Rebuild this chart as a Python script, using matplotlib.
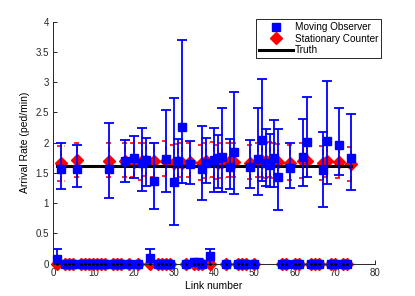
import matplotlib
matplotlib.use("Agg")
import matplotlib.pyplot as plt
import numpy as np
from matplotlib.ticker import FormatStrFormatter

plt.rcParams['font.family'] = ['Liberation Sans', 'DejaVu Sans']

# links with walking traffic
up_links = [2, 6, 14, 18, 20, 22, 23, 25, 28, 30, 31, 32, 34, 37, 38, 40, 41, 42,
            44, 45, 49, 51, 52, 53, 54, 55, 56, 59, 62, 63, 67, 68, 71, 74]
mo_val = [1.57, 1.57, 1.57, 1.69, 1.74, 1.66, 1.71, 1.37, 1.73, 1.35, 1.69, 2.26,
          1.64, 1.56, 1.66, 1.71, 1.74, 1.77, 1.60, 1.84, 1.60, 1.73, 2.04, 1.66,
          1.63, 1.74, 1.44, 1.59, 1.77, 2.01, 1.55, 2.02, 1.96, 1.74]
mo_lo = [1.23, 1.27, 1.08, 1.35, 1.42, 1.20, 1.28, 0.91, 1.18, 0.64, 1.33, 1.34,
         1.32, 1.06, 1.33, 1.19, 1.25, 1.18, 1.23, 1.16, 1.25, 1.13, 1.36, 1.28,
         1.27, 1.26, 0.88, 1.25, 1.29, 1.44, 0.94, 1.32, 1.47, 1.21]
mo_hi = [2.00, 1.96, 2.32, 2.04, 2.11, 2.24, 2.07, 1.99, 2.54, 2.74, 2.06, 3.69,
         2.03, 2.28, 2.08, 2.25, 2.13, 2.57, 2.06, 2.83, 2.04, 2.58, 3.06, 2.22,
         2.14, 2.38, 2.23, 1.99, 2.39, 2.76, 2.18, 3.02, 2.57, 2.47]
sc_val = [1.66, 1.71, 1.70, 1.70, 1.68, 1.69, 1.70, 1.70, 1.69, 1.66, 1.68, 1.67,
          1.68, 1.66, 1.69, 1.70, 1.67, 1.68, 1.69, 1.68, 1.66, 1.70, 1.70, 1.69,
          1.70, 1.69, 1.68, 1.66, 1.69, 1.69, 1.66, 1.70, 1.68, 1.64]
sc_lo = [1.37, 1.44, 1.44, 1.44, 1.43, 1.38, 1.45, 1.43, 1.45, 1.40, 1.42, 1.43,
         1.44, 1.38, 1.41, 1.43, 1.40, 1.42, 1.44, 1.43, 1.40, 1.44, 1.43, 1.42,
         1.43, 1.42, 1.40, 1.38, 1.42, 1.43, 1.39, 1.43, 1.41, 1.37]
sc_hi = [1.95, 2.00, 2.00, 2.00, 2.00, 2.00, 2.00, 1.99, 2.03, 1.96, 1.98, 1.99,
         2.00, 1.96, 1.99, 2.01, 1.97, 1.99, 2.00, 2.00, 1.96, 2.00, 2.01, 2.00,
         2.01, 1.99, 1.98, 1.96, 1.99, 2.00, 1.95, 2.01, 1.98, 1.93]

# links with no walking traffic
low_links = [1, 3, 4, 5, 7, 8, 9, 10, 11, 12, 13, 15, 16, 17, 19, 21, 24, 26, 27,
             28, 29, 33, 35, 36, 37, 39, 43, 46, 47, 48, 50, 57, 58, 60, 61, 64,
             65, 66, 69, 70, 72, 73]
mo_low = {1: (0.08, 0.25), 24: (0.09, 0.24), 35: (0.03, 0.03),
          36: (0.03, 0.03), 39: (0.13, 0.25)}

truth_rate = 1.62

W, H = 415, 296
fig = plt.figure(figsize=(W / 100, H / 100), dpi=100)
ax = fig.add_axes([53 / W, 1 - 263.7 / H, (375 - 53) / W, (263.7 - 21.7) / H])

up = np.array(up_links, dtype=float)
mv, ml, mh = np.array(mo_val), np.array(mo_lo), np.array(mo_hi)
sv, sl, sh = np.array(sc_val), np.array(sc_lo), np.array(sc_hi)

# stationary counter (dashed red bars)
cw = 0.9
ax.vlines(up, sl, sh, colors='red', linestyles=(0, (3, 2)), lw=1.2, zorder=2)
ax.hlines(np.r_[sl, sh], np.r_[up, up] - cw, np.r_[up, up] + cw, colors='red',
          linestyles=(0, (3, 1.5)), lw=1.2, zorder=2)
ax.plot(up, sv, 'D', color='red', ms=6, mec='red', zorder=2.2,
        label='Stationary Counter')

low = np.array(low_links, dtype=float)
ax.plot(low, np.zeros_like(low), 'D', color='red', ms=6, zorder=2.2, clip_on=False)

# moving observer
ax.errorbar(up, mv, yerr=[mv - ml, mh - mv], fmt='none', ecolor='blue',
            elinewidth=1.3, capsize=3.5, capthick=1.3, zorder=3)
ax.plot(up, mv, 's', color='blue', ms=5.5, zorder=3.2, label='Moving Observer')

lv = np.array([mo_low.get(k, (0.0, 0.0))[0] for k in low_links])
lh = np.array([mo_low.get(k, (0.0, 0.0))[1] for k in low_links])
has = lh > lv
ax.errorbar(low[has], lv[has], yerr=[lh[has] - lv[has] + 0.2, lh[has] - lv[has]],
            fmt='none', ecolor='blue', elinewidth=1.3, capsize=3.5, capthick=1.3,
            zorder=3)
ax.plot(low, lv, 's', color='blue', ms=5.5, zorder=3.2, clip_on=False)

# truth
ax.plot([min(up_links + low_links), max(up_links + low_links)],
        [truth_rate, truth_rate], color='black', lw=2.2, zorder=2.6, label='Truth')
ax.plot(low, np.zeros_like(low), '.', color='black', ms=2, zorder=3.5, clip_on=False)

ax.set_xlim(0, 80)
ax.set_ylim(0, 4)
ax.set_xticks(np.arange(0, 81, 10))
ax.set_yticks(np.arange(0, 4.01, 0.5))
ax.yaxis.set_major_formatter(FormatStrFormatter('%g'))
for s in ['top', 'right']:
    ax.spines[s].set_visible(False)
for s in ['left', 'bottom']:
    ax.spines[s].set_color('#262626')
    ax.spines[s].set_linewidth(0.7)
ax.tick_params(direction='in', length=3, width=0.7, labelsize=7,
               colors='#262626', pad=3)
ax.set_xlabel('Link number', fontsize=7.5, labelpad=2)
ax.set_ylabel('Arrival Rate (ped/min)', fontsize=7.5, labelpad=4)

h, l = ax.get_legend_handles_labels()
order = [l.index('Moving Observer'), l.index('Stationary Counter'), l.index('Truth')]
leg = ax.legend([h[i] for i in order], [l[i] for i in order], loc='upper left',
                bbox_to_anchor=(256 / W, 1 - 19.3 / H), bbox_transform=fig.transFigure,
                fontsize=7.2, frameon=True, fancybox=False, framealpha=1,
                edgecolor='#262626', handlelength=3.4, handletextpad=0.2,
                labelspacing=0.15, borderpad=0.3, borderaxespad=0)
leg.get_frame().set_linewidth(0.7)

fig.savefig('out.png', dpi=100)
